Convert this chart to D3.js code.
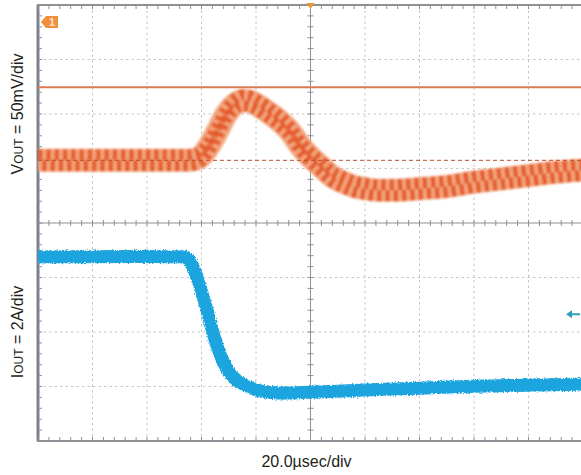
<!DOCTYPE html>
<html>
<head>
<meta charset="utf-8">
<script src="https://cdn.jsdelivr.net/npm/d3@7"></script>
<style>
  html, body { margin: 0; padding: 0; background: #fff; }
  svg { display: block; }
</style>
</head>
<body>
<div id="chart"></div>
<script>
/* ── Scope capture data ───────────────────────────────────────
   time in µs from trigger (20 µs/div), VOUT in mV from the
   dashed reference, IOUT in A.                                 */
const vTime = [-100, -80, -60, -45, -42, -40, -37, -34, -31, -28, -25, -22, -19, -16,
               -13, -10, -7, -4, 0, 4, 8, 12, 16, 20, 25, 30, 35, 40, 50, 60, 70, 80, 90, 100];
const vOut  = [0, 0, 0, 0, 1, 4, 14, 27.5, 42, 51, 55, 54, 50, 45,
               39.5, 33, 25, 14, 3, -6, -15, -20, -24, -26, -27.5, -27.5, -27, -26, -24, -20, -17, -14, -11, -9];

const iTime = [-100, -60, -46, -44, -42, -40, -38, -36, -34, -32, -30, -28, -25, -22,
               -18, -14, -10, 0, 20, 40, 60, 80, 100];
const iOut  = [6.0, 6.02, 6.0, 5.8, 5.35, 4.75, 4.05, 3.3, 2.65, 2.15, 1.8, 1.56, 1.35, 1.2,
               1.08, 1.03, 1.01, 1.04, 1.12, 1.19, 1.26, 1.3, 1.33];

const vLimit = 67;      // solid orange cursor, mV
const vRef = 0;         // dashed orange reference, mV
const ch1Marker = 127;  // channel 1 tag level, mV
const iMarker = 3.9;    // channel 2 arrow level, A

const xDivs = [-100, -80, -60, -40, -20, 0, 20, 40, 60, 80, 100];
const yDivs = [-4, -3, -2, -1, 0, 1, 2, 3, 4];

const vLabel = ['V', 'OUT', ' = 50mV/div'];
const iLabel = ['I', 'OUT', ' = 2A/div'];
const tLabel = '20.0\u00b5sec/div';

renderScope('#chart');

function renderScope(selector) {
  const width = 581, height = 475;
  const L = 38, R = 583, T = 5, B = 441;

  const svg = d3.select(selector).append('svg')
    .attr('width', width).attr('height', height)
    .attr('viewBox', `0 0 ${width} ${height}`);

  // ── Scales ─────────────────────────────────────────────
  const x = d3.scaleLinear().domain([-100, 100]).range([L, R]);
  const yDiv = d3.scaleLinear().domain([-4, 4]).range([B, T]);
  const yV = d3.scaleLinear().domain([-257.5, 142.5]).range([B, T]);   // 50 mV/div
  const yI = d3.scaleLinear().domain([-0.75, 15.25]).range([B, T]);    // 2 A/div

  const defs = svg.append('defs');
  const fz = defs.append('filter').attr('id', 'fuzz')
    .attr('x', '-5%').attr('y', '-20%').attr('width', '110%').attr('height', '140%');
  fz.append('feTurbulence').attr('type', 'fractalNoise')
    .attr('baseFrequency', '0.9 0.6').attr('numOctaves', 2).attr('seed', 3).attr('result', 'n');
  fz.append('feDisplacementMap').attr('in', 'SourceGraphic').attr('in2', 'n')
    .attr('scale', 4).attr('xChannelSelector', 'R').attr('yChannelSelector', 'G');

  const soft = defs.append('filter').attr('id', 'soft');
  soft.append('feGaussianBlur').attr('stdDeviation', 1);

  const minorX = d3.range(-100, 100.01, 4);
  const minorY = d3.range(-4, 4.001, 0.2);

  // ── Dotted graticule ───────────────────────────────────
  const grid = svg.append('g').attr('stroke', '#c4c6ca').attr('stroke-width', 1)
    .attr('stroke-dasharray', '2.5,3');
  grid.selectAll('.gx').data(xDivs.filter(d => d !== 0 && d > -100 && d < 100)).join('line')
    .attr('x1', d => x(d)).attr('x2', d => x(d)).attr('y1', T).attr('y2', B);
  grid.selectAll('.gy').data(yDivs.filter(d => d !== 0 && d > -4 && d < 4)).join('line')
    .attr('class', 'gy')
    .attr('x1', L).attr('x2', R).attr('y1', d => yDiv(d)).attr('y2', d => yDiv(d));

  // ── Centre axes with minor ticks ───────────────────────
  const axes = svg.append('g').attr('stroke', '#8e9096').attr('stroke-width', 1);
  axes.append('line').attr('x1', L).attr('x2', R).attr('y1', yDiv(0)).attr('y2', yDiv(0));
  axes.append('line').attr('x1', x(0)).attr('x2', x(0)).attr('y1', T).attr('y2', B);
  axes.selectAll('.tx').data(minorX).join('line')
    .attr('x1', d => x(d)).attr('x2', d => x(d))
    .attr('y1', yDiv(0) - 3).attr('y2', yDiv(0) + 3);
  axes.selectAll('.ty').data(minorY).join('line')
    .attr('class', 'ty')
    .attr('x1', x(0) - 3).attr('x2', x(0) + 3)
    .attr('y1', d => yDiv(d)).attr('y2', d => yDiv(d));

  // ── Frame with edge ticks ──────────────────────────────
  const frame = svg.append('g').attr('stroke', '#8e9096');
  frame.append('rect').attr('x', L).attr('y', T).attr('width', R - L).attr('height', B - T)
    .attr('fill', 'none').attr('stroke-width', 2);
  frame.append('line').attr('x1', L).attr('x2', L).attr('y1', T).attr('y2', B)
    .attr('stroke', '#7d8290').attr('stroke-width', 3);
  frame.selectAll('.et').data(minorX).join('line')
    .attr('class', 'et')
    .attr('x1', d => x(d)).attr('x2', d => x(d)).attr('y1', T).attr('y2', T + 4);
  frame.selectAll('.eb').data(minorX).join('line')
    .attr('class', 'eb')
    .attr('x1', d => x(d)).attr('x2', d => x(d)).attr('y1', B - 4).attr('y2', B);
  frame.selectAll('.el').data(minorY).join('line')
    .attr('class', 'el')
    .attr('x1', L).attr('x2', L + 4).attr('y1', d => yDiv(d)).attr('y2', d => yDiv(d));

  // ── Traces ─────────────────────────────────────────────
  const vData = vTime.map((t, i) => ({ t, v: vOut[i] }));
  const iData = iTime.map((t, i) => ({ t, v: iOut[i] }));

  const vLine = off => d3.line().curve(d3.curveMonotoneX)
    .x(d => x(d.t)).y(d => yV(d.v) + off);

  // IOUT: thick noisy blue band
  svg.append('path').datum(iData)
    .attr('d', d3.line().curve(d3.curveMonotoneX).x(d => x(d.t)).y(d => yI(d.v)))
    .attr('fill', 'none').attr('stroke', '#1ea4de').attr('stroke-width', 13)
    .attr('stroke-linejoin', 'round').attr('filter', 'url(#fuzz)');

  // VOUT: switching ripple drawn as a band with alternating blobs
  const ripple = svg.append('g').attr('filter', 'url(#soft)');
  ripple.append('path').datum(vData).attr('d', vLine(0))
    .attr('fill', 'none').attr('stroke', '#f2a57c').attr('stroke-width', 23)
    .attr('stroke-linejoin', 'round');
  [-5.5, 5.5].forEach((off, k) => {
    ripple.append('path').datum(vData).attr('d', vLine(off))
      .attr('fill', 'none').attr('stroke', '#e4592a').attr('stroke-width', 11)
      .attr('stroke-dasharray', '4.4,3.9')
      .attr('stroke-dashoffset', k * 4.15).attr('opacity', 0.95);
  });

  // ── Cursors ────────────────────────────────────────────
  svg.append('line').attr('x1', L).attr('x2', R)
    .attr('y1', yV(vLimit)).attr('y2', yV(vLimit))
    .attr('stroke', '#dd7a52').attr('stroke-width', 2);
  svg.append('line').attr('x1', L).attr('x2', R)
    .attr('y1', yV(vRef)).attr('y2', yV(vRef))
    .attr('stroke', '#b8512c').attr('stroke-width', 1).attr('stroke-dasharray', '4,3');

  // ── Markers ────────────────────────────────────────────
  const my = yV(ch1Marker);
  svg.append('path')
    .attr('d', `M${L + 3},${my} L${L + 8},${my - 6} L${L + 20},${my - 6} L${L + 20},${my + 6} L${L + 8},${my + 6} Z`)
    .attr('fill', '#f08f3c');
  svg.append('text').attr('x', L + 14).attr('y', my + 4)
    .attr('text-anchor', 'middle').attr('font-family', 'Liberation Sans, Arial, sans-serif')
    .attr('font-size', 11).attr('font-weight', 'bold').attr('fill', '#fde4cc').text('1');

  svg.append('path')
    .attr('d', `M${566},${yI(iMarker)} L${572},${yI(iMarker) - 4} L${572},${yI(iMarker) + 4} Z`)
    .attr('fill', '#2a9fb5');
  svg.append('line').attr('x1', 571).attr('x2', 580)
    .attr('y1', yI(iMarker)).attr('y2', yI(iMarker))
    .attr('stroke', '#2a9fb5').attr('stroke-width', 2);

  svg.append('path')
    .attr('d', `M${x(0) - 4},${T - 2} L${x(0) + 4},${T - 2} L${x(0)},${T + 4} Z`)
    .attr('fill', '#f0962e');

  // ── Labels ─────────────────────────────────────────────
  const font = 'Liberation Sans, Arial, Helvetica, sans-serif';
  const sideLabel = (parts, cy) => {
    const t = svg.append('text')
      .attr('transform', `translate(23,${cy}) rotate(-90)`)
      .attr('text-anchor', 'middle').attr('font-family', font)
      .attr('font-size', 16).attr('fill', '#231f20');
    t.append('tspan').text(parts[0]);
    t.append('tspan').attr('font-size', 12).text(parts[1]);
    t.append('tspan').text(parts[2]);
  };
  sideLabel(vLabel, yDiv(2));
  sideLabel(iLabel, yDiv(-2));

  svg.append('text').attr('x', x(0) - 4).attr('y', 467)
    .attr('text-anchor', 'middle').attr('font-family', font)
    .attr('font-size', 16).attr('fill', '#231f20').text(tLabel);
}
</script>
</body>
</html>
